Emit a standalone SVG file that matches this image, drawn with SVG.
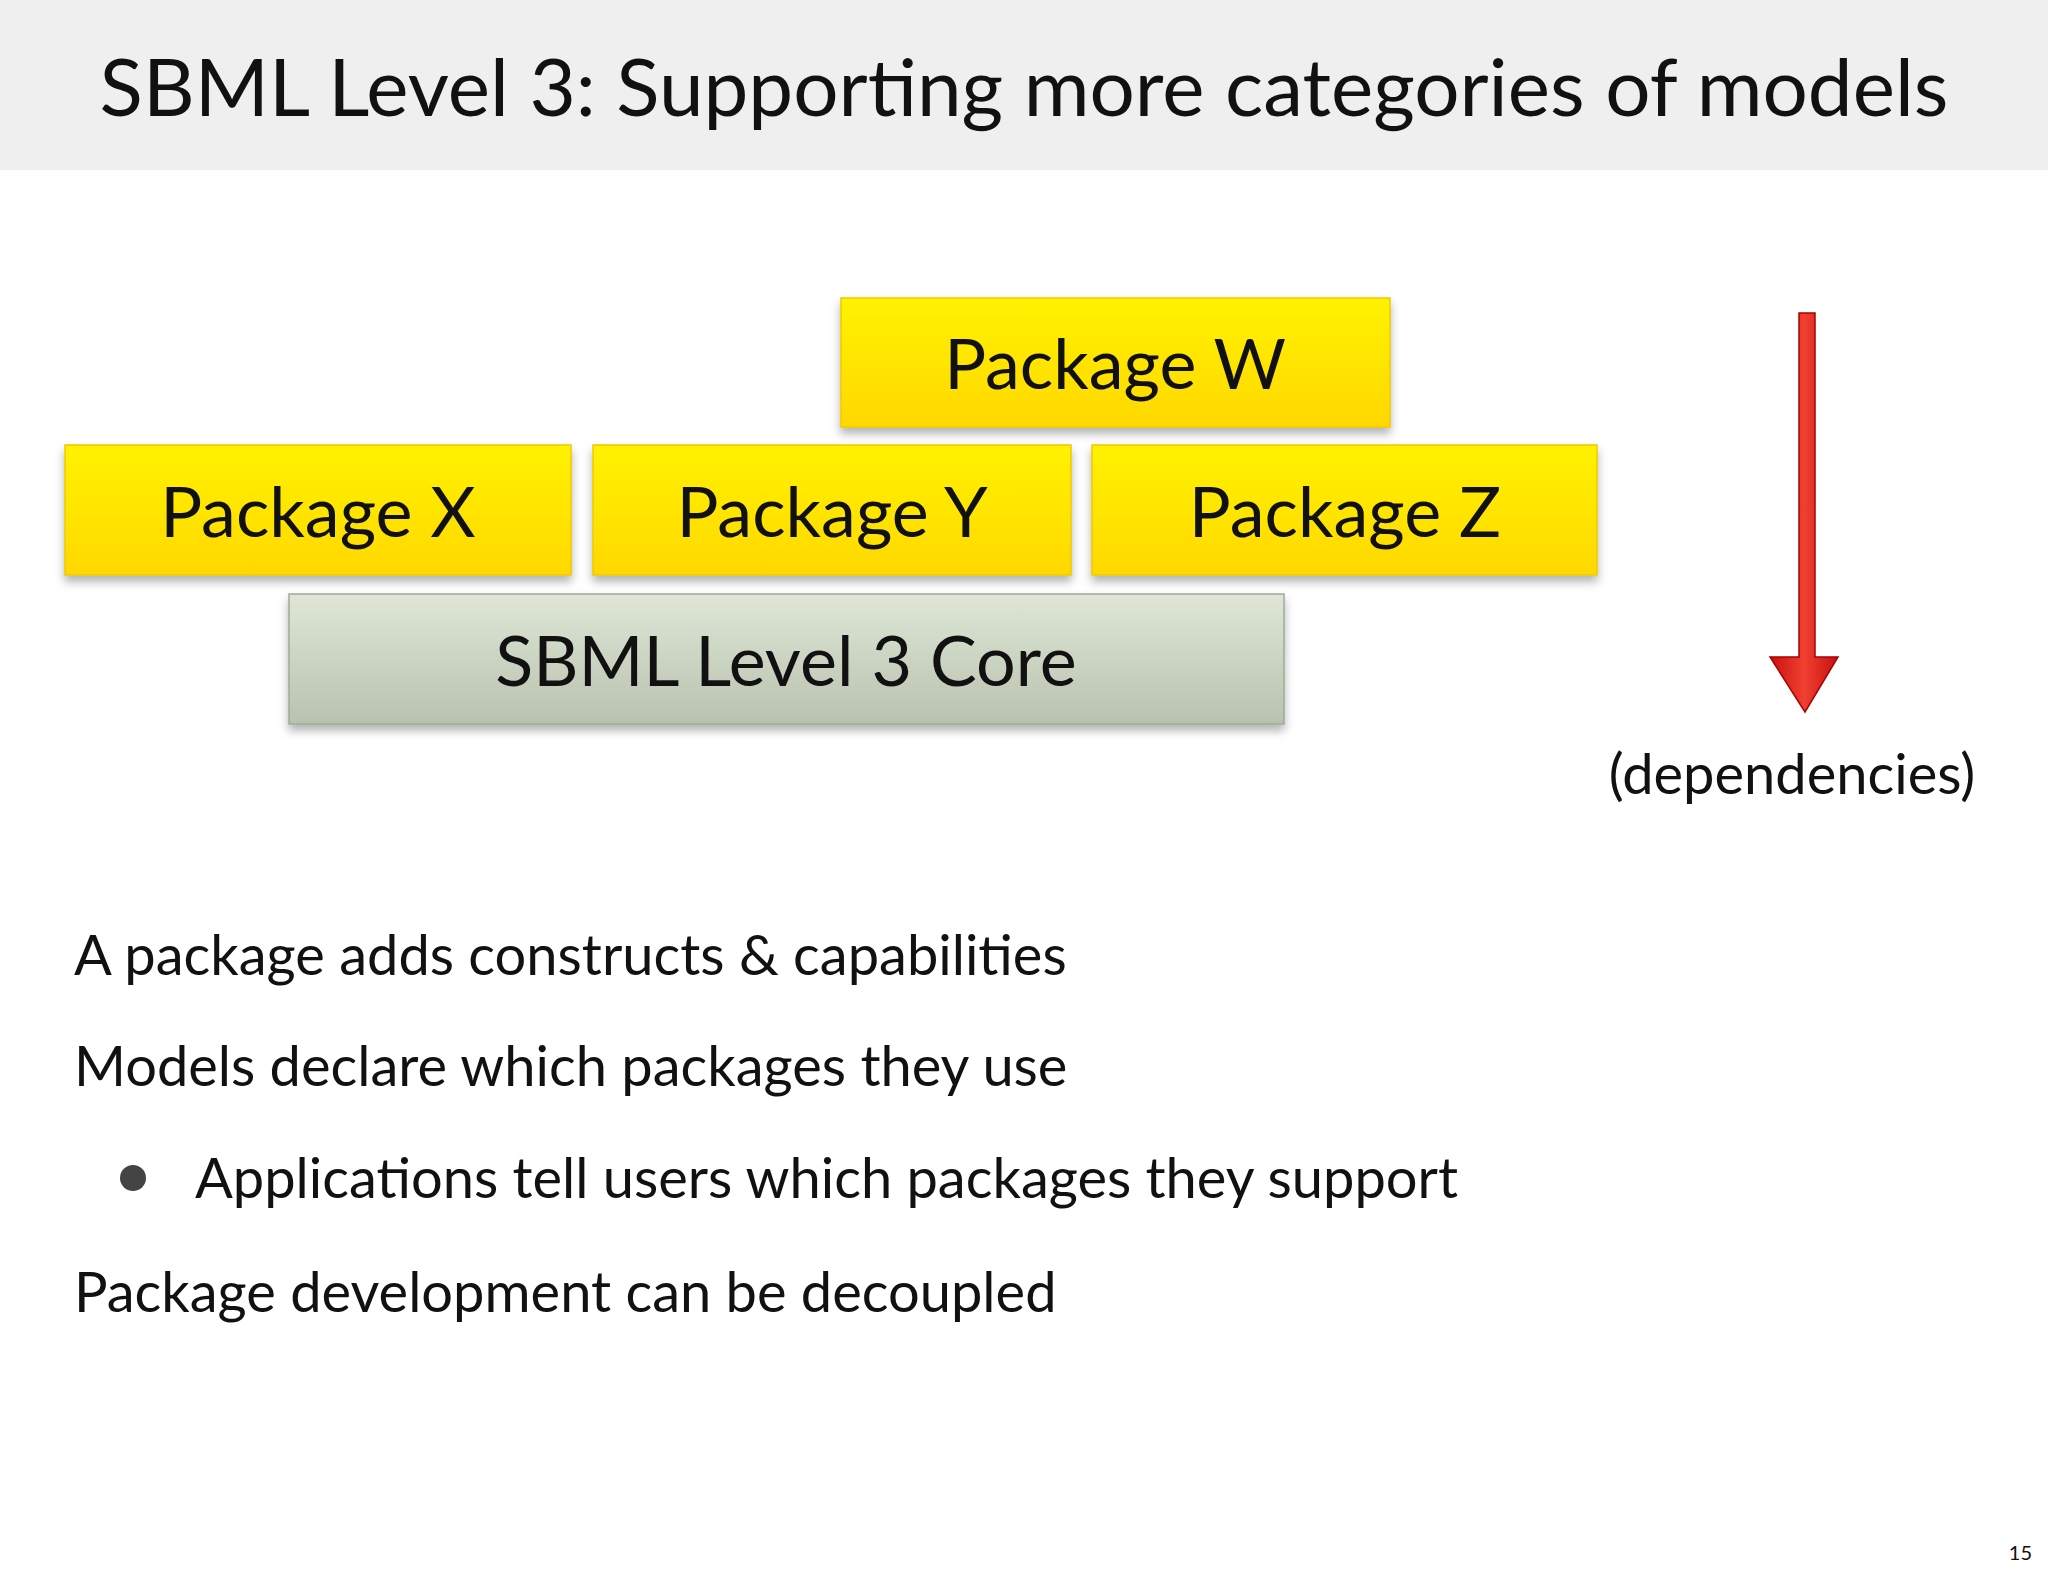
<svg xmlns="http://www.w3.org/2000/svg" width="2048" height="1576" viewBox="0 0 2048 1576">
<defs>
<linearGradient id="yel" x1="0" y1="0" x2="0" y2="1"><stop offset="0" stop-color="#fff200"/><stop offset="1" stop-color="#ffd800"/></linearGradient>
<linearGradient id="grn" x1="0" y1="0" x2="0" y2="1"><stop offset="0" stop-color="#dfe6d6"/><stop offset="1" stop-color="#b8c2ae"/></linearGradient>
<linearGradient id="red" x1="0" y1="0" x2="1" y2="0"><stop offset="0" stop-color="#c81010"/><stop offset="0.5" stop-color="#f04030"/><stop offset="1" stop-color="#c81010"/></linearGradient>
<filter id="sh" x="-5%" y="-10%" width="110%" height="130%"><feDropShadow dx="0" dy="6" stdDeviation="5" flood-opacity="0.3"/></filter>
</defs>
<style>
text{font-family:Lato,"Liberation Sans",sans-serif;fill:#111}
.box{fill:url(#yel);stroke:#f0c800;stroke-width:1.5;filter:url(#sh)}
.lbl{font-size:70px;text-anchor:middle}
.b{font-size:56px}
</style>
<rect x="0" y="0" width="2048" height="170" fill="#efefef"/>
<text x="1024" y="116" font-size="80" text-anchor="middle">SBML Level 3: Supporting more categories of models</text>
<g id="pkgW"><rect class="box" x="841" y="298" width="549" height="129"/><text class="lbl" x="1115" y="389">Package W</text></g>
<g id="pkgX"><rect class="box" x="65" y="445" width="506" height="130"/><text class="lbl" x="318" y="537">Package X</text></g>
<g id="pkgY"><rect class="box" x="593" y="445" width="478" height="130"/><text class="lbl" x="832" y="537">Package Y</text></g>
<g id="pkgZ"><rect class="box" x="1092" y="445" width="505" height="130"/><text class="lbl" x="1345" y="537">Package Z</text></g>
<g id="core"><rect x="289" y="594" width="995" height="130" fill="url(#grn)" stroke="#a0a898" stroke-width="1.5" filter="url(#sh)"/><text class="lbl" x="786" y="686">SBML Level 3 Core</text></g>
<g id="connectors"><path d="M1799,313 H1815 V657 H1838 L1805,712 L1770,657 H1799 Z" fill="url(#red)" stroke="#a00" stroke-width="1.5"/></g>
<text x="1792" y="794" font-size="56" text-anchor="middle">(dependencies)</text>
<text class="b" x="74" y="975">A package adds constructs &amp; capabilities</text>
<text class="b" x="74" y="1086">Models declare which packages they use</text>
<circle cx="133" cy="1178" r="13" fill="#444"/>
<text class="b" x="195" y="1198">Applications tell users which packages they support</text>
<text class="b" x="74" y="1312">Package development can be decoupled</text>
<text x="2032" y="1560" font-size="20" text-anchor="end">15</text>
</svg>
